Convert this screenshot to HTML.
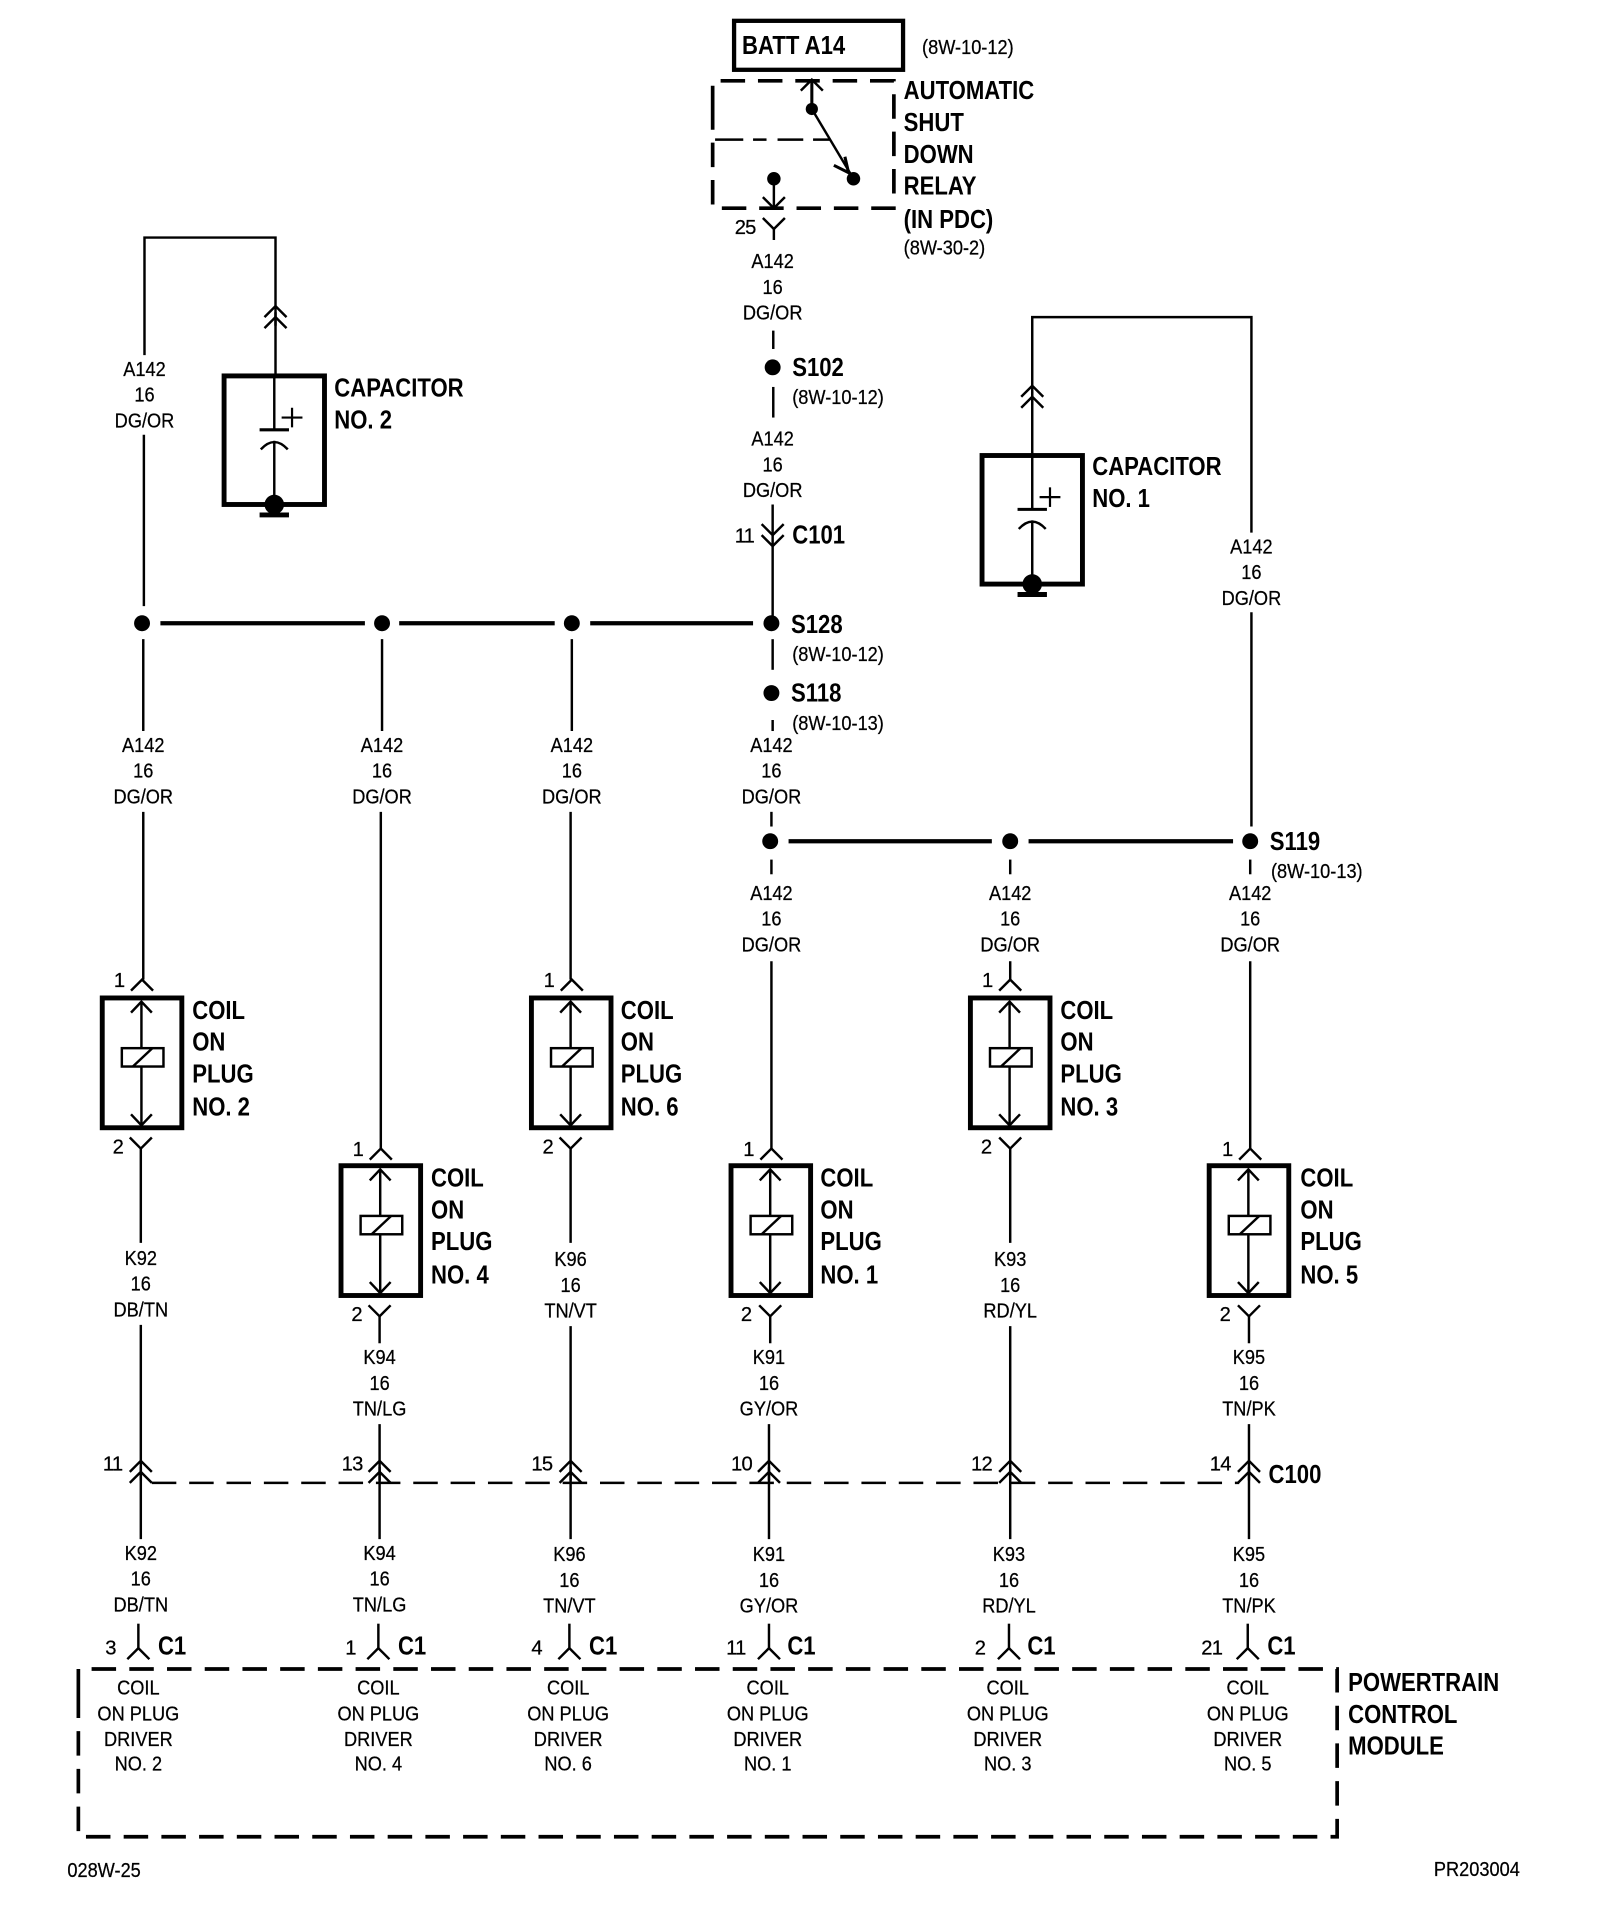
<!DOCTYPE html>
<html><head><meta charset="utf-8"><style>
html,body{margin:0;padding:0;background:#fff}
svg{display:block}
text{font-family:"Liberation Sans",sans-serif;fill:#000;transform-box:fill-box}
.w{font-size:16.5px;text-anchor:middle;transform-origin:50% 50%;transform:scaleX(.9);stroke:#000;stroke-width:.2px}
.n{font-size:16.5px;letter-spacing:-.6px;stroke:#000;stroke-width:.2px}
.r{font-size:16.5px;transform-origin:0 50%;transform:scaleX(.9);stroke:#000;stroke-width:.2px}
.b{font-size:21px;font-weight:bold;transform-origin:0 50%;transform:scaleX(.86)}
path,line,rect,polyline{fill:none;stroke:#000}
</style></head><body>
<svg width="1600" height="1920" viewBox="0 0 1306.67 1568" xmlns="http://www.w3.org/2000/svg">
<defs>
<path id="cu" d="M-9 9L0 0L9 9" stroke-width="2"/>
<path id="cd" d="M-9 -9L0 0L9 -9" stroke-width="2"/>
<g id="dc"><use href="#cu"/><use href="#cu" y="9"/><line x1="0" y1="5" x2="0" y2="16" stroke-width="2"/></g>
<g id="coil">
<rect x="0" y="0" width="65" height="106" stroke-width="4"/>
<line x1="32" y1="3" x2="32" y2="103" stroke-width="2"/>
<path d="M23.500 12L32 3L40.500 12" stroke-width="2"/>
<path d="M23.500 95L32 104L40.500 95" stroke-width="2"/>
<rect x="16" y="41" width="34" height="15" style="fill:#fff" stroke-width="2"/>
<line x1="25" y1="56" x2="41" y2="41" stroke-width="2"/>
</g>
<g id="cap">
<rect x="0" y="0" width="82" height="105" stroke-width="4"/>
<line x1="41" y1="0" x2="41" y2="43" stroke-width="2"/>
<line x1="29" y1="44" x2="53" y2="44" stroke-width="2.500"/>
<path d="M30 60Q41 48 52 60" stroke-width="2"/>
<line x1="41" y1="53" x2="41" y2="105" stroke-width="2"/>
<line x1="47" y1="34" x2="64" y2="34" stroke-width="1.800"/>
<line x1="55.500" y1="26" x2="55.500" y2="42" stroke-width="1.800"/>
<circle cx="41" cy="105" r="8"/>
<line x1="29" y1="113.500" x2="53" y2="113.500" stroke-width="4"/>
</g>
</defs>

<!-- top: battery and relay -->
<rect x="599.500" y="17" width="138" height="40" stroke-width="3.500"/>
<text class="b" x="606" y="44">BATT A14</text>
<text class="r" x="753" y="44">(8W-10-12)</text>
<polyline points="582,90 582,66 730,66 730,170 582,170 582,90" stroke-width="3" stroke-dasharray="20 10.500"/>
<polyline points="584,114 678,114" stroke-width="2" stroke-dasharray="23 8 11 9 21 8 14"/>
<line x1="663" y1="66" x2="663" y2="89" stroke-width="2.500"/>
<use href="#cu" x="663" y="65"/>
<circle cx="663" cy="89" r="5"/>
<line x1="663" y1="89" x2="697" y2="146" stroke-width="2"/>
<path d="M690 128L693 141L681 135" stroke-width="2.500"/>
<circle cx="697" cy="146" r="5.500"/>
<circle cx="632" cy="146" r="5.500"/>
<line x1="632" y1="146" x2="632" y2="170" stroke-width="2"/>
<use href="#cd" x="632" y="170"/>
<use href="#cd" x="632" y="187"/>
<line x1="632" y1="187" x2="632" y2="196" stroke-width="2"/>
<text class="n" x="600" y="191">25</text>
<text class="b" x="738" y="81">AUTOMATIC</text>
<text class="b" x="738" y="107">SHUT</text>
<text class="b" x="738" y="133">DOWN</text>
<text class="b" x="738" y="159">RELAY</text>
<text class="b" x="738" y="186">(IN PDC)</text>
<text class="r" x="738" y="208">(8W-30-2)</text>

<!-- center trunk -->
<text class="w" x="631" y="219">A142</text><text class="w" x="631" y="240">16</text><text class="w" x="631" y="261">DG/OR</text>
<line x1="631.500" y1="270" x2="631.500" y2="285" stroke-width="2"/>
<circle cx="631" cy="300" r="6.500"/>
<text class="b" x="647" y="307">S102</text>
<line x1="631.500" y1="316" x2="631.500" y2="341" stroke-width="2"/>
<text class="r" x="647" y="330">(8W-10-12)</text>
<text class="w" x="631" y="364">A142</text><text class="w" x="631" y="385">16</text><text class="w" x="631" y="406">DG/OR</text>
<line x1="631" y1="412" x2="631" y2="445" stroke-width="2"/>
<use href="#cd" x="631" y="437"/><use href="#cd" x="631" y="446"/>
<text class="n" x="600" y="443">11</text>
<text class="b" x="647" y="444">C101</text>
<line x1="631" y1="446" x2="631" y2="503" stroke-width="2"/>

<!-- bus 1 -->
<circle cx="116" cy="509" r="6.500"/><circle cx="312" cy="509" r="6.500"/><circle cx="467" cy="509" r="6.500"/><circle cx="630" cy="509" r="6.500"/>
<line x1="131" y1="509" x2="298" y2="509" stroke-width="3.500"/>
<line x1="326" y1="509" x2="453" y2="509" stroke-width="3.500"/>
<line x1="482" y1="509" x2="615" y2="509" stroke-width="3.500"/>
<text class="b" x="646" y="517">S128</text>
<text class="r" x="647" y="540">(8W-10-12)</text>
<line x1="631" y1="522" x2="631" y2="547" stroke-width="2"/>
<circle cx="630" cy="566" r="6.500"/>
<text class="b" x="646" y="573">S118</text>
<text class="r" x="647" y="596">(8W-10-13)</text>
<line x1="631" y1="588" x2="631" y2="597" stroke-width="2"/>
<text class="w" x="630" y="614">A142</text><text class="w" x="630" y="635">16</text><text class="w" x="630" y="656">DG/OR</text>
<line x1="630" y1="663" x2="630" y2="675" stroke-width="2"/>

<!-- bus 2 -->
<circle cx="629" cy="687" r="6.500"/><circle cx="825" cy="687" r="6.500"/><circle cx="1021" cy="687" r="6.500"/>
<line x1="644" y1="687" x2="810" y2="687" stroke-width="3.500"/>
<line x1="840" y1="687" x2="1007" y2="687" stroke-width="3.500"/>
<text class="b" x="1037" y="694">S119</text>
<text class="r" x="1038" y="717">(8W-10-13)</text>
<line x1="630" y1="702" x2="630" y2="714" stroke-width="2"/>
<line x1="825" y1="702" x2="825" y2="714" stroke-width="2"/>
<line x1="1021" y1="702" x2="1021" y2="714" stroke-width="2"/>

<!-- capacitor 2 -->
<polyline points="118,290 118,194 225,194 225,307" stroke-width="2"/>
<use href="#dc" x="225" y="250"/>
<use href="#cap" x="183" y="307"/>
<text class="b" x="273" y="324">CAPACITOR</text>
<text class="b" x="273" y="350">NO. 2</text>
<text class="w" x="118" y="307">A142</text><text class="w" x="118" y="328">16</text><text class="w" x="118" y="349">DG/OR</text>
<line x1="117.500" y1="355" x2="117.500" y2="495" stroke-width="2"/>

<!-- capacitor 1 -->
<polyline points="843,371 843,259 1022,259 1022,435" stroke-width="2"/>
<use href="#dc" x="843" y="315"/>
<use href="#cap" x="802" y="372"/>
<text class="b" x="892" y="388">CAPACITOR</text>
<text class="b" x="892" y="414">NO. 1</text>
<text class="w" x="1022" y="452">A142</text><text class="w" x="1022" y="473">16</text><text class="w" x="1022" y="494">DG/OR</text>
<line x1="1022" y1="500" x2="1022" y2="675" stroke-width="2"/>

<!-- column wires upper -->
<line x1="117" y1="522" x2="117" y2="597" stroke-width="2"/>
<line x1="312" y1="522" x2="312" y2="597" stroke-width="2"/>
<line x1="467" y1="522" x2="467" y2="597" stroke-width="2"/>
<text class="w" x="117" y="614">A142</text><text class="w" x="117" y="635">16</text><text class="w" x="117" y="656">DG/OR</text>
<text class="w" x="312" y="614">A142</text><text class="w" x="312" y="635">16</text><text class="w" x="312" y="656">DG/OR</text>
<text class="w" x="467" y="614">A142</text><text class="w" x="467" y="635">16</text><text class="w" x="467" y="656">DG/OR</text>
<text class="w" x="630" y="735">A142</text><text class="w" x="630" y="756">16</text><text class="w" x="630" y="777">DG/OR</text>
<text class="w" x="825" y="735">A142</text><text class="w" x="825" y="756">16</text><text class="w" x="825" y="777">DG/OR</text>
<text class="w" x="1021" y="735">A142</text><text class="w" x="1021" y="756">16</text><text class="w" x="1021" y="777">DG/OR</text>

<line x1="117" y1="663" x2="117" y2="800" stroke-width="2"/>
<line x1="311" y1="663" x2="311" y2="938" stroke-width="2"/>
<line x1="466" y1="663" x2="466" y2="800" stroke-width="2"/>
<line x1="630" y1="785" x2="630" y2="938" stroke-width="2"/>
<line x1="825" y1="785" x2="825" y2="800" stroke-width="2"/>
<line x1="1021" y1="785" x2="1021" y2="938" stroke-width="2"/>

<!-- coil 2 -->
<use href="#cu" x="116" y="800"/><text class="n" x="93" y="806">1</text>
<use href="#coil" x="83.500" y="815"/>
<use href="#cd" x="115" y="938"/><line x1="115" y1="938" x2="115" y2="1015" stroke-width="2"/><text class="n" x="92" y="942">2</text>
<text class="b" x="157" y="832">COIL</text><text class="b" x="157" y="858">ON</text><text class="b" x="157" y="884">PLUG</text><text class="b" x="157" y="911">NO. 2</text>
<!-- coil 4 -->
<use href="#cu" x="311" y="938"/><text class="n" x="288" y="944">1</text>
<use href="#coil" x="278.500" y="952"/>
<use href="#cd" x="310" y="1075"/><line x1="310" y1="1075" x2="310" y2="1097" stroke-width="2"/><text class="n" x="287" y="1079">2</text>
<text class="b" x="352" y="969">COIL</text><text class="b" x="352" y="995">ON</text><text class="b" x="352" y="1021">PLUG</text><text class="b" x="352" y="1048">NO. 4</text>
<!-- coil 6 -->
<use href="#cu" x="467" y="800"/><text class="n" x="444" y="806">1</text>
<use href="#coil" x="434" y="815"/>
<use href="#cd" x="466" y="938"/><line x1="466" y1="938" x2="466" y2="1015" stroke-width="2"/><text class="n" x="443" y="942">2</text>
<text class="b" x="507" y="832">COIL</text><text class="b" x="507" y="858">ON</text><text class="b" x="507" y="884">PLUG</text><text class="b" x="507" y="911">NO. 6</text>
<!-- coil 1 -->
<use href="#cu" x="630" y="938"/><text class="n" x="607" y="944">1</text>
<use href="#coil" x="597" y="952"/>
<use href="#cd" x="629" y="1075"/><line x1="629" y1="1075" x2="629" y2="1097" stroke-width="2"/><text class="n" x="605" y="1079">2</text>
<text class="b" x="670" y="969">COIL</text><text class="b" x="670" y="995">ON</text><text class="b" x="670" y="1021">PLUG</text><text class="b" x="670" y="1048">NO. 1</text>
<!-- coil 3 -->
<use href="#cu" x="825" y="800"/><text class="n" x="802" y="806">1</text>
<use href="#coil" x="792.500" y="815"/>
<use href="#cd" x="825" y="938"/><line x1="825" y1="938" x2="825" y2="1015" stroke-width="2"/><text class="n" x="801" y="942">2</text>
<text class="b" x="866" y="832">COIL</text><text class="b" x="866" y="858">ON</text><text class="b" x="866" y="884">PLUG</text><text class="b" x="866" y="911">NO. 3</text>
<!-- coil 5 -->
<use href="#cu" x="1021" y="938"/><text class="n" x="998" y="944">1</text>
<use href="#coil" x="987.500" y="952"/>
<use href="#cd" x="1020" y="1075"/><line x1="1020" y1="1075" x2="1020" y2="1097" stroke-width="2"/><text class="n" x="996" y="1079">2</text>
<text class="b" x="1062" y="969">COIL</text><text class="b" x="1062" y="995">ON</text><text class="b" x="1062" y="1021">PLUG</text><text class="b" x="1062" y="1048">NO. 5</text>

<!-- mid labels -->
<text class="w" x="115" y="1033">K92</text><text class="w" x="115" y="1054">16</text><text class="w" x="115" y="1075">DB/TN</text>
<text class="w" x="310" y="1114">K94</text><text class="w" x="310" y="1135">16</text><text class="w" x="310" y="1156">TN/LG</text>
<text class="w" x="466" y="1034">K96</text><text class="w" x="466" y="1055">16</text><text class="w" x="466" y="1076">TN/VT</text>
<text class="w" x="628" y="1114">K91</text><text class="w" x="628" y="1135">16</text><text class="w" x="628" y="1156">GY/OR</text>
<text class="w" x="825" y="1034">K93</text><text class="w" x="825" y="1055">16</text><text class="w" x="825" y="1076">RD/YL</text>
<text class="w" x="1020" y="1114">K95</text><text class="w" x="1020" y="1135">16</text><text class="w" x="1020" y="1156">TN/PK</text>

<line x1="115" y1="1082" x2="115" y2="1257" stroke-width="2"/>
<line x1="310" y1="1163" x2="310" y2="1257" stroke-width="2"/>
<line x1="466" y1="1083" x2="466" y2="1257" stroke-width="2"/>
<line x1="628" y1="1163" x2="628" y2="1257" stroke-width="2"/>
<line x1="825" y1="1083" x2="825" y2="1257" stroke-width="2"/>
<line x1="1020" y1="1163" x2="1020" y2="1257" stroke-width="2"/>

<!-- C100 row -->
<line x1="124" y1="1211" x2="1012" y2="1211" stroke-width="2" stroke-dasharray="20 10.500"/>
<use href="#dc" x="115" y="1193"/><use href="#dc" x="310" y="1193"/><use href="#dc" x="466" y="1193"/><use href="#dc" x="628" y="1193"/><use href="#dc" x="825" y="1193"/><use href="#dc" x="1020" y="1193"/>
<text class="n" x="84" y="1201">11</text>
<text class="n" x="279" y="1201">13</text>
<text class="n" x="434" y="1201">15</text>
<text class="n" x="597" y="1201">10</text>
<text class="n" x="793" y="1201">12</text>
<text class="n" x="988" y="1201">14</text>
<text class="b" x="1036" y="1211">C100</text>

<!-- lower labels -->
<text class="w" x="115" y="1274">K92</text><text class="w" x="115" y="1295">16</text><text class="w" x="115" y="1316">DB/TN</text>
<text class="w" x="310" y="1274">K94</text><text class="w" x="310" y="1295">16</text><text class="w" x="310" y="1316">TN/LG</text>
<text class="w" x="465" y="1275">K96</text><text class="w" x="465" y="1296">16</text><text class="w" x="465" y="1317">TN/VT</text>
<text class="w" x="628" y="1275">K91</text><text class="w" x="628" y="1296">16</text><text class="w" x="628" y="1317">GY/OR</text>
<text class="w" x="824" y="1275">K93</text><text class="w" x="824" y="1296">16</text><text class="w" x="824" y="1317">RD/YL</text>
<text class="w" x="1020" y="1275">K95</text><text class="w" x="1020" y="1296">16</text><text class="w" x="1020" y="1317">TN/PK</text>

<!-- C1 row -->
<g stroke-width="2">
<line x1="113" y1="1326" x2="113" y2="1346" stroke-width="2"/><use href="#cu" x="113" y="1346"/>
<line x1="309" y1="1326" x2="309" y2="1346" stroke-width="2"/><use href="#cu" x="309" y="1346"/>
<line x1="465" y1="1326" x2="465" y2="1346" stroke-width="2"/><use href="#cu" x="465" y="1346"/>
<line x1="628" y1="1326" x2="628" y2="1346" stroke-width="2"/><use href="#cu" x="628" y="1346"/>
<line x1="824" y1="1326" x2="824" y2="1346" stroke-width="2"/><use href="#cu" x="824" y="1346"/>
<line x1="1019" y1="1326" x2="1019" y2="1346" stroke-width="2"/><use href="#cu" x="1019" y="1346"/>
</g>
<text class="n" x="86" y="1351">3</text><text class="b" x="129" y="1351">C1</text>
<text class="n" x="282" y="1351">1</text><text class="b" x="325" y="1351">C1</text>
<text class="n" x="434" y="1351">4</text><text class="b" x="481" y="1351">C1</text>
<text class="n" x="593" y="1351">11</text><text class="b" x="643" y="1351">C1</text>
<text class="n" x="796" y="1351">2</text><text class="b" x="839" y="1351">C1</text>
<text class="n" x="981" y="1351">21</text><text class="b" x="1035" y="1351">C1</text>

<!-- PCM -->
<polyline points="64,1383 64,1363 1092,1363 1092,1500 64,1500 64,1383" stroke-width="3" stroke-dasharray="20 10.800"/>
<text class="w" x="113" y="1384">COIL</text><text class="w" x="113" y="1405">ON PLUG</text><text class="w" x="113" y="1426">DRIVER</text><text class="w" x="113" y="1446">NO. 2</text>
<text class="w" x="309" y="1384">COIL</text><text class="w" x="309" y="1405">ON PLUG</text><text class="w" x="309" y="1426">DRIVER</text><text class="w" x="309" y="1446">NO. 4</text>
<text class="w" x="464" y="1384">COIL</text><text class="w" x="464" y="1405">ON PLUG</text><text class="w" x="464" y="1426">DRIVER</text><text class="w" x="464" y="1446">NO. 6</text>
<text class="w" x="627" y="1384">COIL</text><text class="w" x="627" y="1405">ON PLUG</text><text class="w" x="627" y="1426">DRIVER</text><text class="w" x="627" y="1446">NO. 1</text>
<text class="w" x="823" y="1384">COIL</text><text class="w" x="823" y="1405">ON PLUG</text><text class="w" x="823" y="1426">DRIVER</text><text class="w" x="823" y="1446">NO. 3</text>
<text class="w" x="1019" y="1384">COIL</text><text class="w" x="1019" y="1405">ON PLUG</text><text class="w" x="1019" y="1426">DRIVER</text><text class="w" x="1019" y="1446">NO. 5</text>
<text class="b" x="1101" y="1381">POWERTRAIN</text>
<text class="b" x="1101" y="1407">CONTROL</text>
<text class="b" x="1101" y="1433">MODULE</text>

<text class="r" x="55" y="1533">028W-25</text>
<text class="r" x="1171" y="1532">PR203004</text>
</svg>
</body></html>
